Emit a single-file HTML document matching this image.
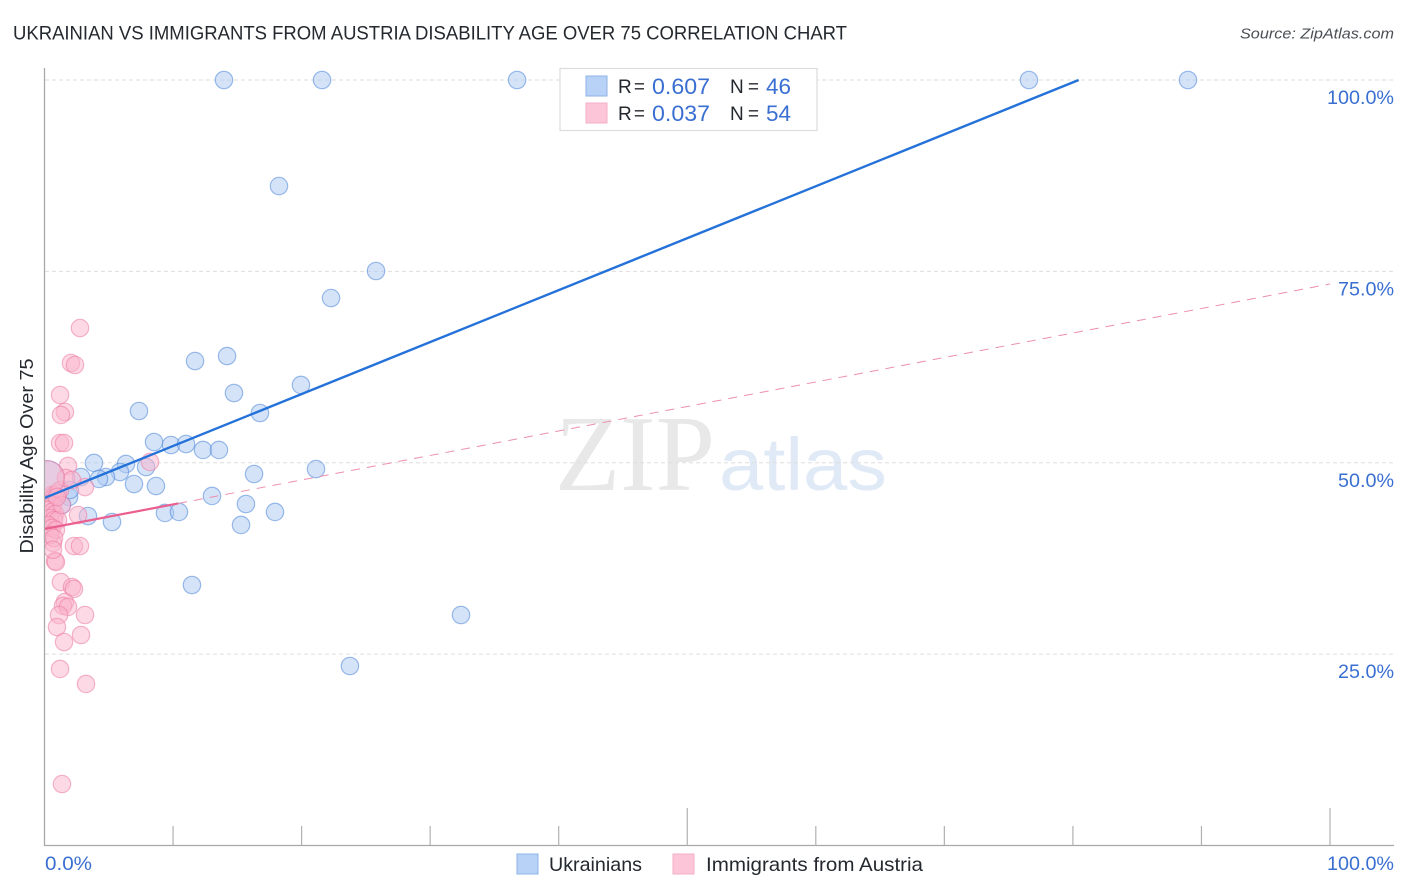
<!DOCTYPE html>
<html lang="en">
<head>
<meta charset="utf-8">
<title>Ukrainian vs Immigrants from Austria Disability Age Over 75 Correlation Chart</title>
<style>
html,body{margin:0;padding:0;background:#fff;}
body{width:1406px;height:892px;overflow:hidden;}
svg{display:block;font-family:"Liberation Sans",sans-serif;}
</style>
</head>
<body>
<svg id="chart" width="1406" height="892" viewBox="0 0 1406 892" xmlns="http://www.w3.org/2000/svg">
  <defs><clipPath id="plot-clip"><rect x="45" y="60" width="1349" height="785"/></clipPath></defs>
  <text x="13" y="39.5" font-size="19.5" fill="#24292f" textLength="834" lengthAdjust="spacingAndGlyphs">UKRAINIAN VS IMMIGRANTS FROM AUSTRIA DISABILITY AGE OVER 75 CORRELATION CHART</text>
  <text x="1394" y="38.5" font-size="15" font-style="italic" fill="#4a4f55" text-anchor="end" textLength="154" lengthAdjust="spacingAndGlyphs">Source: ZipAtlas.com</text>
  <text x="555" y="490" font-size="108" font-family="'Liberation Serif',serif" fill="#e8e8e8" textLength="160" lengthAdjust="spacingAndGlyphs">ZIP</text>
  <text x="719" y="490" font-size="74" fill="#e0eaf7" textLength="168" lengthAdjust="spacingAndGlyphs">atlas</text>
  <g id="grid"></g>
  <g id="axes"></g>
  <g id="marks" clip-path="url(#plot-clip)"></g>
  <text transform="translate(33,456) rotate(-90)" font-size="18" fill="#24292f" text-anchor="middle" textLength="195" lengthAdjust="spacingAndGlyphs">Disability Age Over 75</text>
  <g>
    <rect x="560" y="68.5" width="257" height="62" fill="#fff" stroke="#dcdcdc" stroke-width="1.2"/>
    <rect x="586" y="76" width="21" height="20" fill="#b7d2f6" stroke="#8fb3e6" stroke-width="1"/>
    <rect x="586" y="103" width="21" height="20" fill="#fcc6d8" stroke="#f3afc8" stroke-width="1"/>
    <text x="618" y="93" font-size="19" fill="#24292f" textLength="27" lengthAdjust="spacing">R =</text>
    <text x="652" y="94" font-size="22" fill="#3a6fd2" textLength="58" lengthAdjust="spacingAndGlyphs">0.607</text>
    <text x="730" y="93" font-size="19" fill="#24292f" textLength="29" lengthAdjust="spacing">N =</text>
    <text x="766" y="94" font-size="22" fill="#3a6fd2" textLength="25" lengthAdjust="spacingAndGlyphs">46</text>
    <text x="618" y="120" font-size="19" fill="#24292f" textLength="27" lengthAdjust="spacing">R =</text>
    <text x="652" y="121" font-size="22" fill="#3a6fd2" textLength="58" lengthAdjust="spacingAndGlyphs">0.037</text>
    <text x="730" y="120" font-size="19" fill="#24292f" textLength="29" lengthAdjust="spacing">N =</text>
    <text x="766" y="121" font-size="22" fill="#3a6fd2" textLength="25" lengthAdjust="spacingAndGlyphs">54</text>
  </g>
  <g>
    <rect x="517" y="854" width="21" height="20" fill="#b7d2f6" stroke="#8fb3e6" stroke-width="1"/>
    <text x="549" y="871" font-size="19.5" fill="#24292f" textLength="93" lengthAdjust="spacingAndGlyphs">Ukrainians</text>
    <rect x="673" y="854" width="21" height="20" fill="#fcc6d8" stroke="#f3afc8" stroke-width="1"/>
    <text x="706" y="871" font-size="19.5" fill="#24292f" textLength="217" lengthAdjust="spacingAndGlyphs">Immigrants from Austria</text>
  </g>
</svg>
<script>
const yTickValues = [25, 50, 75, 100];
const yTickLabels = ['25.0%', '50.0%', '75.0%', '100.0%'];
const xTickValues = [10, 20, 30, 40, 50, 60, 70, 80, 90, 100];
const xMajorTicks = [50, 100];
const xEndLabels = ['0.0%', '100.0%'];

const ukrainianX = [13.96,21.59,36.76,76.58,88.95,18.24,25.79,22.29,11.71,14.20,19.95,14.74,7.35,16.76,8.52,9.84,11.01,12.33,13.57,3.85,6.34,5.87,7.90,16.30,21.12,2.84,4.78,4.24,6.96,8.67,13.03,15.67,1.91,1.36,3.38,5.25,9.37,10.46,17.93,15.29,11.47,32.40,23.76,0.19,0.82,1.98];
const ukrainianY = [100,100,100,100,100,86.15,75.05,71.52,63.29,63.94,60.16,59.11,56.76,56.50,52.71,52.32,52.45,51.67,51.67,49.97,49.84,48.79,49.44,48.53,49.18,48.14,48.14,47.88,47.22,46.96,45.66,44.61,45.53,44.48,43.04,42.26,43.44,43.57,43.57,41.87,34.03,30.11,23.45,48.01,45.79,46.44];
const ukrainianWeight = [1,1,1,1,1,1,1,1,1,1,1,1,1,1,1,1,1,1,1,1,1,1,1,1,1,1,1,1,1,1,1,1,1,1,1,1,1,1,1,1,1,1,1,2,1,1];

const austriaX = [2.76,2.06,2.37,1.21,1.59,1.28,1.21,1.52,1.83,8.21,3.15,2.61,2.29,2.76,0.66,0.82,0.89,1.28,2.14,2.29,1.59,1.44,1.83,1.13,3.15,0.97,2.84,1.52,1.21,3.23,1.36,0.58,0.82,1.05,0.43,0.66,0.27,0.58,0.82,0.43,0.74,1.05,0.27,0.58,0.89,0.43,0.74,1.21,1.67,2.14,1.36,0.19,0.97,0.66];
const austriaY = [67.60,63.03,62.77,58.85,56.63,56.24,52.58,52.58,49.58,50.10,46.83,43.17,39.12,39.12,39.52,37.17,37.03,34.42,33.77,33.51,31.81,31.29,31.16,30.11,30.11,28.54,27.50,26.58,23.06,21.10,8.03,45.79,45.79,46.05,45.14,44.48,43.83,43.57,43.31,42.78,42.52,42.52,41.87,41.48,41.22,40.56,40.17,46.44,48.01,47.75,44.48,48.01,45.53,38.63];
const austriaWeight = [1,1,1,1,1,1,1,1,1,1,1,1,1,1,1,1,1,1,1,1,1,1,1,1,1,1,1,1,1,1,1,1,1,1,1,1,1,1,1,1,1,1,1,1,1,1,1,1,1,1,1,2,1,1];

const ukrainianTrendX = [0, 80.45];
const ukrainianTrendY = [45.4, 100];
const austriaSolidX = [0, 10.4];
const austriaSolidY = [41.35, 44.68];
const austriaDashX = [10.4, 100];
const austriaDashY = [44.68, 73.35];

const NS = 'http://www.w3.org/2000/svg';
const xScale = v => 44.5 + v * 12.855;
const yScale = v => 845.5 - v * 7.655;
const gridLayer = document.getElementById('grid');
const axesLayer = document.getElementById('axes');
const marksLayer = document.getElementById('marks');

function make(tag, attrs, parent) {
  const el = document.createElementNS(NS, tag);
  for (const k in attrs) el.setAttribute(k, attrs[k]);
  parent.appendChild(el);
  return el;
}

yTickValues.forEach((v, i) => {
  const g = make('line', {x1: 45, x2: 1393, y1: yScale(v), y2: yScale(v), stroke: '#dedede', 'stroke-width': 0.9, 'stroke-dasharray': '4 3'}, gridLayer);
  
  
  const t = make('text', {x: 1394, y: yScale(v) + 24, 'font-size': 19, fill: '#3a6fd2', 'text-anchor': 'end', textLength: v === 100 ? 67 : 56, lengthAdjust: 'spacingAndGlyphs'}, axesLayer);
  t.textContent = yTickLabels[i];
  
  
});

const yAxis = make('line', {x1: 44.5, x2: 44.5, y1: 68, y2: 846, stroke: '#a9a9a9', 'stroke-width': 1.3}, axesLayer);


const xAxis = make('line', {x1: 44, x2: 1394, y1: 845.5, y2: 845.5, stroke: '#a9a9a9', 'stroke-width': 1.3}, axesLayer);



xTickValues.forEach(v => {
  const top = xMajorTicks.includes(v) ? 808 : 826;
  const tick = make('line', {x1: xScale(v), x2: xScale(v), y1: top, y2: 845.5, stroke: '#b0b0b0', 'stroke-width': 1.2}, axesLayer);
  
  
});

const x0Label = make('text', {x: 45, y: 870, 'font-size': 19, fill: '#3a6fd2', textLength: 47, lengthAdjust: 'spacingAndGlyphs'}, axesLayer);
x0Label.textContent = xEndLabels[0];


const x1Label = make('text', {x: 1394, y: 870, 'font-size': 19, fill: '#3a6fd2', 'text-anchor': 'end', textLength: 67, lengthAdjust: 'spacingAndGlyphs'}, axesLayer);
x1Label.textContent = xEndLabels[1];



function drawPoints(xs, ys, weights, fill, stroke, name) {
  xs.forEach((x, i) => {
    const c = make('circle', {cx: xScale(x), cy: yScale(ys[i]), r: 8.7 * weights[i], fill: fill, 'fill-opacity': 0.5, stroke: stroke, 'stroke-opacity': 0.55, 'stroke-width': 1.2}, marksLayer);
    
    
  });
}
drawPoints(ukrainianX, ukrainianY, ukrainianWeight, '#a9c8f2', '#4f86d8', 'ukrainians-point');
drawPoints(austriaX, austriaY, austriaWeight, '#f9b3cb', '#ec7ca4', 'austria-point');

const dash = make('line', {x1: xScale(austriaDashX[0]), y1: yScale(austriaDashY[0]), x2: xScale(austriaDashX[1]), y2: yScale(austriaDashY[1]), stroke: '#ec8fae', 'stroke-width': 1, 'stroke-dasharray': '9 7'}, marksLayer);


const blueLine = make('line', {x1: xScale(ukrainianTrendX[0]), y1: yScale(ukrainianTrendY[0]), x2: xScale(ukrainianTrendX[1]), y2: yScale(ukrainianTrendY[1]), stroke: '#2472d9', 'stroke-width': 2.4}, marksLayer);


const pinkLine = make('line', {x1: xScale(austriaSolidX[0]), y1: yScale(austriaSolidY[0]), x2: xScale(austriaSolidX[1]), y2: yScale(austriaSolidY[1]), stroke: '#ea5f90', 'stroke-width': 2.2}, marksLayer);


</script>
</body>
</html>
